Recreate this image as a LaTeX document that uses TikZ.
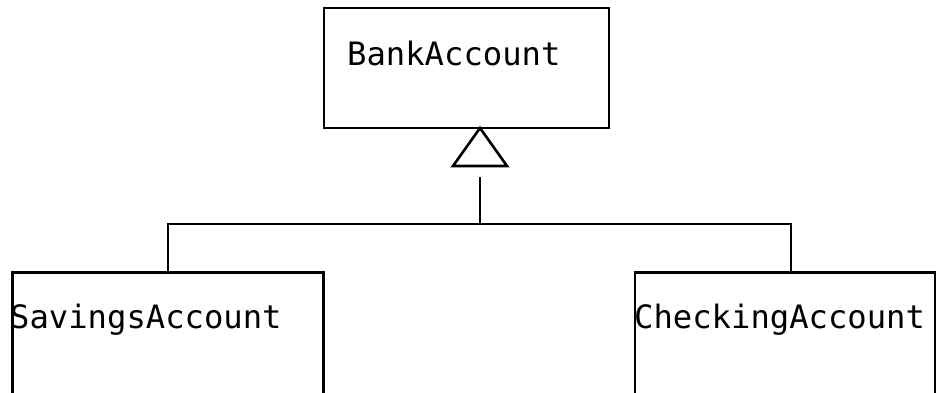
\documentclass[tikz,border=0pt]{standalone}
\usepackage{fontspec}
\setmonofont{DejaVu Sans Mono}
\begin{document}
\begin{tikzpicture}[x=1pt,y=-1pt,
  box/.style={draw=black, line width=2.8pt, inner sep=0pt, minimum width=#1},
  lbl/.style={anchor=base west, inner sep=0pt, font=\ttfamily\fontsize{32.2}{36}\selectfont},
  conn/.style={draw=black, line width=2.6pt}]
\useasboundingbox (0,0) rectangle (936,392);
\node[box=285pt, minimum height=120pt] (bank) at (466.5,68) {};
\node[box=311pt, minimum height=122pt] (sav) at (168,333.5) {};
\node[box=300pt, minimum height=122pt] (chk) at (785,333.5) {};
\node[lbl] (tbank) at (347,65) {BankAccount};
\node[lbl] (tsav) at (10,328) {SavingsAccount};
\node[lbl] (tchk) at (634,328) {CheckingAccount};
\coordinate (apex) at (480,128);
\coordinate (tbase) at (480,177);
\coordinate (j) at (480,224);
\coordinate (chktop) at (791,272);
\draw[conn, line join=miter] (apex) -- ++(-27,38) -- ++(54,0) -- cycle;
\draw[conn] (j) -- (tbase);
\draw[conn] (sav.north) |- (j) -| (chktop);
\end{tikzpicture}
\end{document}
